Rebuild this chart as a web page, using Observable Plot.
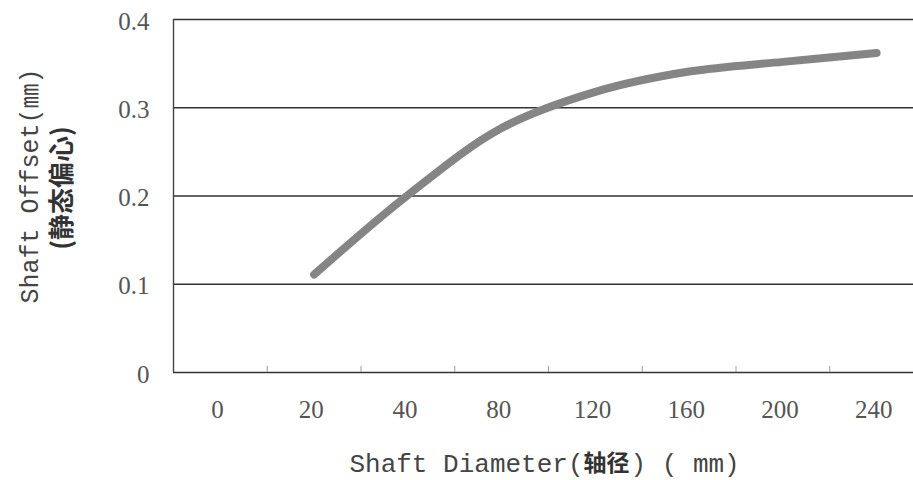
<!DOCTYPE html>
<html><head><meta charset="utf-8">
<script src="https://cdn.jsdelivr.net/npm/d3@7"></script>
<script src="https://cdn.jsdelivr.net/npm/@observablehq/plot@0.6"></script>
<style>body{margin:0;background:#fff} svg{display:block}</style>
</head><body><div id="chart"></div>
<script>
const xLabels = ["0", "20", "40", "80", "120", "160", "200", "240"];
const lineDiameters = ["20", "40", "80", "120", "160", "200", "240"];
const lineOffsets = [0.111, 0.201, 0.277, 0.318, 0.341, 0.352, 0.362];
const yTicks = [0, 0.1, 0.2, 0.3, 0.4];
const xTitleParts = ["Shaft Diameter(", "轴径", ") ( mm)"];
const yTitleLines = ["Shaft Offset(㎜)", "(静态偏心)"];

const data = lineDiameters.map((d, i) => ({x: xLabels.indexOf(d), y: lineOffsets[i]}));
const idx = d3.range(xLabels.length);
const boundaries = d3.range(1, xLabels.length).map(i => i - 0.5);

const W = 913, H = 480, ML = 173, MT = 19, MB = 108;
const band = 93.75;
const serif = "'Liberation Serif', 'Times New Roman', serif";
const mono = "'Liberation Mono', 'Noto Sans CJK SC', monospace";
const cjk = "'Noto Sans CJK SC', sans-serif";

const chart = Plot.plot({
  width: W, height: H,
  marginLeft: ML, marginRight: 0, marginTop: MT, marginBottom: MB,
  style: {background: "#fff"},
  x: {type: "linear", domain: [-0.5, xLabels.length - 0.5], range: [ML, ML + band * xLabels.length]},
  y: {domain: [0, 0.4]},
  marks: [
    Plot.ruleY(yTicks, {stroke: "#333", strokeWidth: 1.6}),
    Plot.ruleX([-0.5], {stroke: "#444", strokeWidth: 1.4}),
    Plot.ruleX(boundaries, {y1: 0, y2: 0, insetTop: -6, stroke: "#999", strokeWidth: 1}),
    Plot.line(data, {x: "x", y: "y", stroke: "#858585", strokeWidth: 8, curve: "catmull-rom", strokeLinecap: "round"}),
    Plot.axisY(yTicks, {tickSize: 0, tickPadding: 24, dy: 2, tickFormat: d => d === 0 ? "0" : d.toFixed(1),
      fontSize: 25, fontFamily: serif, fill: "#555", label: null}),
    Plot.axisX(idx, {tickSize: 0, tickPadding: 28, dx: -3, tickFormat: i => xLabels[i],
      fontSize: 25, fontFamily: serif, fill: "#555", label: null}),
    Plot.text([xTitleParts[0]], {text: d => d, frameAnchor: "bottom", textAnchor: "end", lineAnchor: "middle",
      dx: 40, dy: 91, fontSize: 26, fontFamily: mono, fill: "#444"}),
    Plot.text([xTitleParts[1]], {text: d => d, frameAnchor: "bottom", textAnchor: "start", lineAnchor: "middle",
      dx: 40, dy: 91, fontSize: 23, fontFamily: cjk, fontWeight: "bold", fill: "#333"}),
    Plot.text([xTitleParts[2]], {text: d => d, frameAnchor: "bottom", textAnchor: "start", lineAnchor: "middle",
      dx: 87, dy: 91, fontSize: 26, fontFamily: mono, fill: "#444"}),
    Plot.text([yTitleLines[0]], {text: d => d, frameAnchor: "left", rotate: -90, textAnchor: "middle", lineAnchor: "middle",
      dx: -144, dy: -10, fontSize: 25, fontFamily: mono, fill: "#444"}),
    Plot.text([yTitleLines[1]], {text: d => d, frameAnchor: "left", rotate: -90, textAnchor: "middle", lineAnchor: "middle",
      dx: -111, dy: -8, fontSize: 26, fontFamily: cjk, fontWeight: "bold", fill: "#333"})
  ]
});
document.getElementById("chart").appendChild(chart);
</script>
</body></html>
